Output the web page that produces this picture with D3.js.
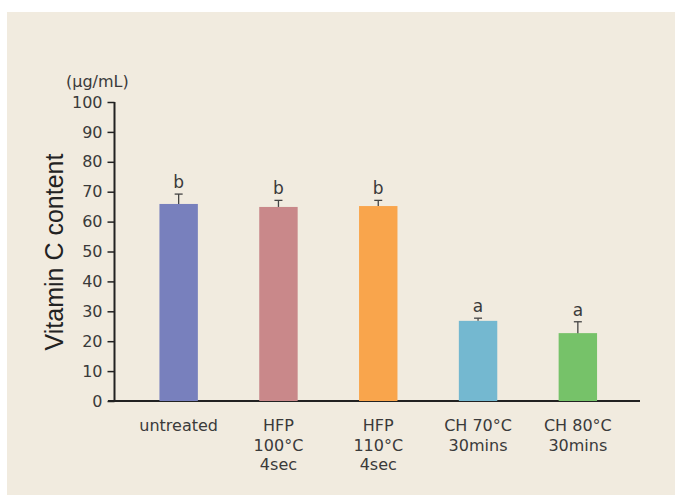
<!DOCTYPE html>
<html>
<head>
<meta charset="utf-8">
<script src="https://cdn.jsdelivr.net/npm/d3@7"></script>
<style>
  html, body { margin: 0; padding: 0; background: #fff; }
  svg { display: block; }
</style>
</head>
<body>
<div id="app"></div>
<script>
// data
const categories = ['untreated', 'HFP\n100°C\n4sec', 'HFP\n110°C\n4sec', 'CH 70°C\n30mins', 'CH 80°C\n30mins'];
const values = [65.9, 64.9, 65.2, 26.8, 22.7];
const errors = [3.3, 2.2, 1.9, 0.9, 3.8];
const letters = ['b', 'b', 'b', 'a', 'a'];
const colors = ['#7880bd', '#c9888a', '#f9a54c', '#74b8d0', '#76c269'];
const yTicks = [0, 10, 20, 30, 40, 50, 60, 70, 80, 90, 100];

const W = 675, H = 495;
const svg = d3.select('#app').append('svg')
  .attr('width', W).attr('height', H);

svg.append('rect')
  .attr('x', 7).attr('y', 12)
  .attr('width', W - 7).attr('height', H - 12)
  .attr('fill', '#f1ebdf');

const x = d3.scaleBand().domain(d3.range(categories.length))
  .range([129.5, 627]).paddingInner(0.615).paddingOuter(0.3);
const y = d3.scaleLinear().domain([0, 100]).range([401, 102]);

const font = '"DejaVu Sans", sans-serif';
const txt = '#3a3a3a';

// y axis
const yAxis = svg.append('g')
  .attr('transform', 'translate(114.5,0)')
  .call(d3.axisLeft(y).tickValues(yTicks).tickSize(7).tickPadding(5));
yAxis.select('.domain').attr('stroke', '#222').attr('stroke-width', 2)
  .attr('d', `M0,${y(100)}V${y(0)}`);
yAxis.selectAll('.tick line').attr('stroke', '#222').attr('stroke-width', 1.5);
yAxis.selectAll('.tick text')
  .attr('font-family', font).attr('font-size', 16).attr('fill', txt);

// x axis line
svg.append('line')
  .attr('x1', 108).attr('x2', 640)
  .attr('y1', y(0)).attr('y2', y(0))
  .attr('stroke', '#222').attr('stroke-width', 2);

// bars
const g = svg.append('g');
g.selectAll('rect.bar')
  .data(values)
  .join('rect')
  .attr('class', 'bar')
  .attr('x', (d, i) => x(i))
  .attr('width', x.bandwidth())
  .attr('y', d => y(d))
  .attr('height', d => y(0) - y(d))
  .attr('fill', (d, i) => colors[i]);

// error bars
const eb = g.selectAll('g.err')
  .data(values)
  .join('g')
  .attr('class', 'err')
  .attr('transform', (d, i) => `translate(${x(i) + x.bandwidth() / 2},0)`);
eb.append('line')
  .attr('y1', d => y(d))
  .attr('y2', (d, i) => y(d + errors[i]))
  .attr('stroke', '#444').attr('stroke-width', 1.3);
eb.append('line')
  .attr('x1', -4).attr('x2', 4)
  .attr('y1', (d, i) => y(d + errors[i]))
  .attr('y2', (d, i) => y(d + errors[i]))
  .attr('stroke', '#444').attr('stroke-width', 1.3);
eb.append('text')
  .attr('y', (d, i) => y(d + errors[i]) - 6)
  .attr('text-anchor', 'middle')
  .attr('font-family', font).attr('font-size', 17).attr('fill', txt)
  .text((d, i) => letters[i]);

// category labels
const cl = svg.append('g').selectAll('text')
  .data(categories)
  .join('text')
  .attr('text-anchor', 'middle')
  .attr('font-family', font).attr('font-size', 16).attr('fill', txt)
  .attr('transform', (d, i) => `translate(${x(i) + x.bandwidth() / 2},431)`);
cl.selectAll('tspan')
  .data(d => d.split('\n'))
  .join('tspan')
  .attr('x', 0)
  .attr('y', (d, j) => j * 19.5)
  .text(d => d);

// unit label
svg.append('text')
  .attr('x', 66).attr('y', 87)
  .attr('font-family', font).attr('font-size', 16).attr('fill', txt)
  .text('(μg/mL)');

// y title
svg.append('text')
  .attr('transform', 'translate(63,252) rotate(-90)')
  .attr('text-anchor', 'middle')
  .attr('font-family', '"Liberation Sans", Arial, sans-serif')
  .attr('font-size', 25)
  .attr('fill', '#222')
  .text('Vitamin C content');
</script>
</body>
</html>
